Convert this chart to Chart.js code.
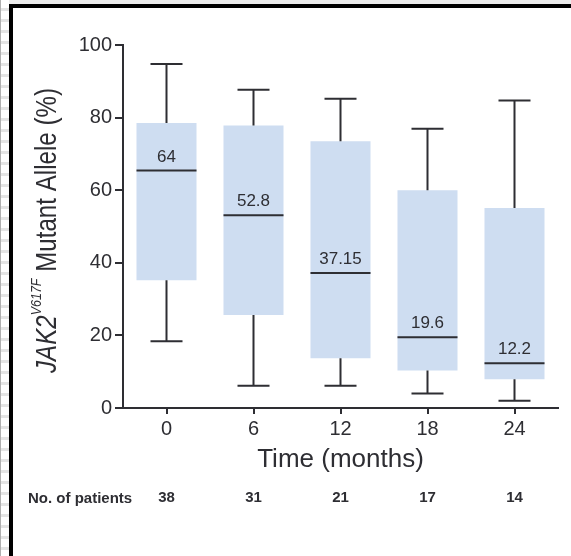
<!DOCTYPE html>
<html><head><meta charset="utf-8">
<script src="https://cdn.jsdelivr.net/npm/chart.js@4"></script>
<style>
html,body{margin:0;padding:0;background:#fff;}
#wrap{position:relative;width:571px;height:556px;overflow:hidden;background:#fff;}
.topstrip{position:absolute;left:0;top:0;width:571px;height:4px;background:#ececec;}
.leftstrip{position:absolute;left:0;top:0;width:9px;height:556px;background:repeating-linear-gradient(to bottom,#fff 0px,#fff 8px,#e4e4e4 8px,#e4e4e4 11px);border-left:1px solid #b0b0b0;box-sizing:border-box;}
.btop{position:absolute;left:9px;top:4px;width:562px;height:4px;background:#000;}
.bleft{position:absolute;left:9px;top:4px;width:4px;height:552px;background:#000;}
canvas{position:absolute;left:0;top:0;}
</style></head><body>
<div id="wrap">
<div class="topstrip"></div><div class="leftstrip"></div><div class="btop"></div><div class="bleft"></div>
<canvas id="c" width="571" height="556"></canvas>
</div>
<script>
const months = ['0','6','12','18','24'];
const whiskerMax = [94.8, 87.7, 85.2, 76.9, 84.7];
const q3 = [78.5, 77.8, 73.5, 60.0, 55.1];
const medians = [65.4, 53.1, 37.2, 19.5, 12.3];
const q1 = [35.2, 25.6, 13.7, 10.3, 7.9];
const whiskerMin = [18.4, 6.1, 6.1, 4.0, 2.0];
const medianLabels = ['64','52.8','37.15','19.6','12.2'];
const patients = [38, 31, 21, 17, 14];
const yTicks = [0, 20, 40, 60, 80, 100];

const INK = '#2e2e33';
const BOX = 'rgb(206,221,241)';
const FONT = '"Liberation Sans", Arial, Helvetica, sans-serif';

const boxPlugin = {
  id: 'boxParts',
  afterDatasetsDraw(chart) {
    const ctx = chart.ctx;
    const xs = chart.scales.x, ys = chart.scales.y;
    const meta = chart.getDatasetMeta(0);
    ctx.save();
    ctx.strokeStyle = INK;
    ctx.lineWidth = 2;
    months.forEach((m, i) => {
      const x = xs.getPixelForValue(i);
      const w = meta.data[i].width;
      const capW = 32;
      const yMax = ys.getPixelForValue(whiskerMax[i]);
      const yQ3 = ys.getPixelForValue(q3[i]);
      const yQ1 = ys.getPixelForValue(q1[i]);
      const yMin = ys.getPixelForValue(whiskerMin[i]);
      const yMed = ys.getPixelForValue(medians[i]);
      ctx.beginPath();
      ctx.moveTo(x, yQ3); ctx.lineTo(x, yMax);
      ctx.moveTo(x - capW / 2, yMax); ctx.lineTo(x + capW / 2, yMax);
      ctx.moveTo(x, yQ1); ctx.lineTo(x, yMin);
      ctx.moveTo(x - capW / 2, yMin); ctx.lineTo(x + capW / 2, yMin);
      ctx.moveTo(x - w / 2, yMed); ctx.lineTo(x + w / 2, yMed);
      ctx.stroke();
      ctx.fillStyle = INK;
      ctx.font = '17px ' + FONT;
      ctx.textAlign = 'center';
      ctx.textBaseline = 'alphabetic';
      ctx.fillText(medianLabels[i], x, yMed - 9);
    });
    ctx.restore();
  },
  afterDraw(chart) {
    const ctx = chart.ctx;
    const xs = chart.scales.x, ys = chart.scales.y;
    const area = chart.chartArea;
    ctx.save();
    ctx.fillStyle = INK;
    // x title
    ctx.font = '26px ' + FONT;
    ctx.textAlign = 'center';
    ctx.textBaseline = 'alphabetic';
    ctx.fillText('Time (months)', (area.left + area.right) / 2, 467);
    // patients row
    ctx.font = 'bold 15px ' + FONT;
    ctx.textAlign = 'left';
    ctx.fillText('No. of patients', 28, 503);
    ctx.textAlign = 'center';
    patients.forEach((p, i) => {
      ctx.fillText(String(p), xs.getPixelForValue(i), 502);
    });
    // y title with italic gene name and superscript
    const mainF = '29px ' + FONT;
    const itF = 'italic 29px ' + FONT;
    const supF = 'italic 15px ' + FONT;
    const parts = [
      {t: 'JAK2', f: itF, dy: 0},
      {t: 'V617F', f: supF, dy: -15},
      {t: ' Mutant Allele (%)', f: mainF, dy: 0}
    ];
    let total = 0;
    parts.forEach(p => { ctx.font = p.f; p.w = ctx.measureText(p.t).width; total += p.w; });
    const targetLen = 285;
    const sx = targetLen / total;
    ctx.translate(56, 373);
    ctx.rotate(-Math.PI / 2);
    ctx.scale(sx, 1);
    ctx.textAlign = 'left';
    let cx = 0;
    parts.forEach(p => { ctx.font = p.f; ctx.fillText(p.t, cx, p.dy); cx += p.w; });
    ctx.restore();
  }
};

new Chart(document.getElementById('c'), {
  type: 'bar',
  data: {
    labels: months,
    datasets: [{
      data: q1.map((v, i) => [v, q3[i]]),
      backgroundColor: BOX,
      borderWidth: 0,
      barPercentage: 0.69,
      categoryPercentage: 1
    }]
  },
  options: {
    responsive: false,
    animation: false,
    devicePixelRatio: 1,
    layout: {padding: {left: 0, top: 45, right: 13, bottom: 0}},
    plugins: {legend: {display: false}, tooltip: {enabled: false}, title: {display: false}},
    scales: {
      x: {
        afterFit(s) { s.height = 148; },
        grid: {display: true, offset: false, drawOnChartArea: false, drawTicks: true, tickLength: 6, color: INK, lineWidth: 2},
        border: {display: true, color: INK, width: 2},
        ticks: {color: INK, font: {size: 20, family: FONT}, padding: 3, maxRotation: 0}
      },
      y: {
        min: 0, max: 100,
        afterFit(s) { s.width = 123; },
        afterBuildTicks(s) { s.ticks = yTicks.map(v => ({value: v})); },
        grid: {display: true, drawOnChartArea: false, drawTicks: true, tickLength: 8, color: INK, lineWidth: 2},
        border: {display: true, color: INK, width: 2},
        ticks: {color: INK, font: {size: 20, family: FONT}, padding: 3}
      }
    }
  },
  plugins: [boxPlugin]
});
</script>
</body></html>
